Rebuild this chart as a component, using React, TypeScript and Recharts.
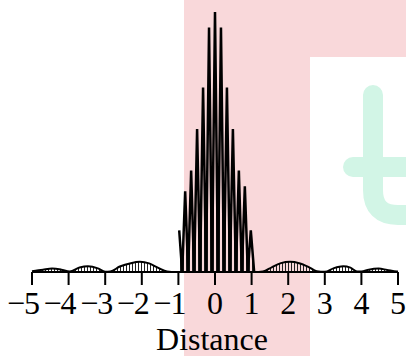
import React from 'react';
import { ComposedChart, Area, XAxis, YAxis } from 'recharts';

// tick positions and their printed labels
const xTicks = [-5, -4, -3, -2, -1, 0, 1, 2, 3, 4, 5];
const tickLabels = ['−5', '−4', '−3', '−2', '−1', '0', '1', '2', '3', '4', '5'];

// central fringes (|x| < 1), peak / trough pairs
const centerX = [
    -1.07, -0.978, -0.8965, -0.815, -0.7335, -0.652, -0.5705, -0.489, -0.4075, -0.326, -0.2445, -0.163, -0.0815,
    0,
    0.0815, 0.163, 0.2445, 0.326, 0.4075, 0.489, 0.5705, 0.652, 0.7335, 0.815, 0.8965, 0.978, 1.07,
];
const centerY = [
    0, 0.16, 0, 0.31, 0, 0.39, 0, 0.55, 0, 0.71, 0, 0.94, 0,
    1,
    0, 0.94, 0, 0.71, 0, 0.55, 0, 0.39, 0, 0.33, 0, 0.16, 0,
];

// small side lobes (hatched)
const sideX = [
    -5, -4.7, -4.45, -4.2, -3.97, -3.7, -3.47, -3.2, -3.0, -2.86, -2.6, -2.3, -2.05, -1.8, -1.55, -1.31, -1.07,
    1.07, 1.31, 1.55, 1.8, 2.05, 2.3, 2.55, 2.78, 3.0, 3.25, 3.5, 3.7, 3.88, 4.0, 4.2, 4.47, 4.7, 4.97, 5,
];
const sideY = [
    0.003, 0.009, 0.013, 0.009, 0.002, 0.017, 0.022, 0.014, 0.001, 0.002, 0.021, 0.034, 0.039, 0.033, 0.016, 0.002, 0,
    0, 0.002, 0.018, 0.034, 0.039, 0.034, 0.02, 0.003, 0.001, 0.015, 0.022, 0.017, 0.002, 0.002, 0.009, 0.013, 0.008, 0.002, 0.002,
];

const rows: { x: number; center: number | null; side: number | null }[] = [];
centerX.forEach((x, i) => rows.push({ x, center: centerY[i], side: null }));
sideX.forEach((x, i) => rows.push({ x, center: null, side: sideY[i] }));
rows.sort((a, b) => a.x - b.x);

const serif = '"Liberation Serif", "Times New Roman", serif';

const SignedTick = (props: any) => {
    const { x, y, index } = props;
    const label: string = tickLabels[index] ?? String(props.payload.value);
    const neg = label.startsWith('−');
    const digits = neg ? label.slice(1) : label;
    return (
        <g>
            <text x={x} y={y + 29} textAnchor="middle" fontFamily={serif} fontSize={32} fill="#000">
                {digits}
            </text>
            {neg && (
                <text x={x - 7} y={y + 29} textAnchor="end" fontFamily={serif} fontSize={32} fill="#000">
                    −
                </text>
            )}
        </g>
    );
};

export default function App() {
    return (
        <div style={{ position: 'absolute', left: 0, top: 0, width: 406, height: 356, background: '#fff', overflow: 'hidden' }}>
            {/* background watermark */}
            <div style={{ position: 'absolute', left: 184, top: 0, width: 126, height: 356, background: '#F9D8DA' }} />
            <div style={{ position: 'absolute', left: 310, top: 0, width: 96, height: 57, background: '#F9D8DA' }} />
            <svg width={406} height={356} style={{ position: 'absolute', left: 0, top: 0 }}>
                <path d="M373 95 V190 Q373 215 398 215 H412" stroke="#D2F5E6" strokeWidth={20} fill="none" strokeLinecap="round" />
                <path d="M353 167 H412" stroke="#D2F5E6" strokeWidth={20} fill="none" strokeLinecap="round" />
            </svg>
            <div style={{ position: 'absolute', left: 0, top: 0 }}>
                <ComposedChart width={406} height={356} data={rows} margin={{ top: 12, right: 8, bottom: 0, left: 32 }}>
                    <defs>
                        <pattern id="hatch" width="3" height="4" patternUnits="userSpaceOnUse">
                            <rect x="0" y="0" width="1" height="4" fill="#222" />
                        </pattern>
                    </defs>
                    <XAxis
                        type="number"
                        dataKey="x"
                        domain={[-5, 5]}
                        ticks={xTicks}
                        interval={0}
                        height={84}
                        tickSize={13}
                        tickMargin={0}
                        axisLine={{ stroke: '#000', strokeWidth: 2 }}
                        tickLine={{ stroke: '#000', strokeWidth: 2 }}
                        tick={<SignedTick />}
                        label={{ value: 'Distance', position: 'insideBottom', offset: 6, dx: -3, fontFamily: serif, fontSize: 32, fill: '#000' }}
                    />
                    <YAxis hide domain={[0, 1]} allowDataOverflow />
                    <Area
                        type="monotone"
                        dataKey="side"
                        connectNulls
                        stroke="#000"
                        strokeWidth={2}
                        fill="url(#hatch)"
                        fillOpacity={1}
                        dot={false}
                        activeDot={false}
                        isAnimationActive={false}
                    />
                    <Area
                        type="linear"
                        dataKey="center"
                        stroke="#000"
                        strokeWidth={2.5}
                        fill="url(#hatch)"
                        fillOpacity={1}
                        dot={false}
                        activeDot={false}
                        isAnimationActive={false}
                    />
                </ComposedChart>
            </div>
        </div>
    );
}
